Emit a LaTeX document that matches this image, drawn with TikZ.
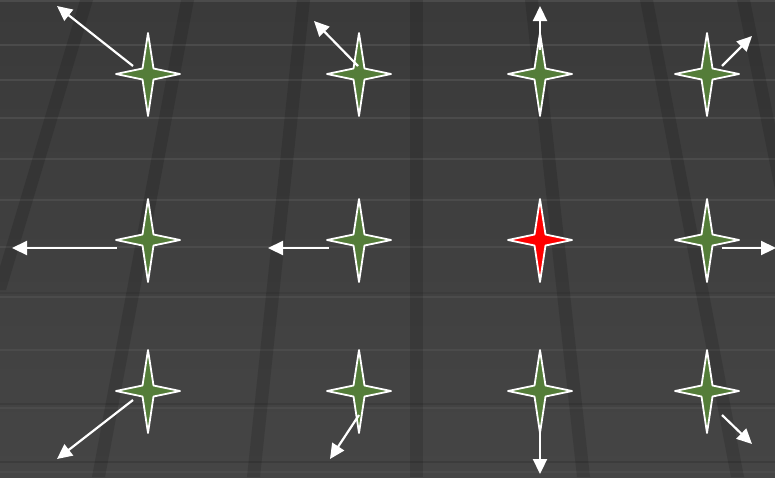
\documentclass[tikz,border=0pt]{standalone}
\usetikzlibrary{arrows.meta,calc}
\definecolor{bgtop}{RGB}{58,58,58}
\definecolor{bgbot}{RGB}{69,69,69}
\definecolor{hline}{RGB}{75,75,75}
\definecolor{hdark}{RGB}{60,60,60}
\definecolor{starGreen}{RGB}{84,125,57}
\definecolor{starRed}{RGB}{255,0,0}
\tikzset{
  stripe/.style={fill=black,fill opacity=0.13,draw=none},
  gridline/.style={draw=hline,line width=2pt},
  groove/.style={draw=hdark,line width=2pt},
  flow/.style={draw=white,line width=2.2pt,-{Triangle[length=15pt,width=14pt]}},
  starshape/.style={draw=white,line width=1.8pt,line join=round,fill=starGreen},
  redstar/.style={starshape,fill=starRed}
}
\newcommand{\starpath}[2]{%
  \path[#2] ($(#1)+(0,-41)$) -- ($(#1)+(5.5,-5.5)$) -- ($(#1)+(32,0)$) -- ($(#1)+(5.5,5.5)$) -- ($(#1)+(0,42)$) -- ($(#1)+(-5.5,5.5)$) -- ($(#1)+(-32,0)$) -- ($(#1)+(-5.5,-5.5)$) -- cycle;}
\begin{document}
\begin{tikzpicture}[x=1pt,y=-1pt]
\useasboundingbox (0,0) rectangle (775,477);
% background
\shade[top color=bgtop,bottom color=bgbot] (0,0) rectangle (775,477);
% horizontal lines
\foreach \yy in {1,45,80,118,159,200,247,297,350,408,472} {
  \draw[gridline] (0,\yy) -- (775,\yy);
}
\foreach \yy in {293,404,462} {
  \draw[groove] (0,\yy) -- (775,\yy);
}
% slanted dark stripes
\fill[stripe] (80,0) -- (93,0) -- (6,290) -- (-7,290) -- cycle;
\fill[stripe] (181,0) -- (194,0) -- (105,477) -- (92,477) -- cycle;
\fill[stripe] (297,0) -- (310,0) -- (260,477) -- (247,477) -- cycle;
\fill[stripe] (410,0) -- (423,0) -- (423,477) -- (410,477) -- cycle;
\fill[stripe] (525,0) -- (538,0) -- (590,477) -- (577,477) -- cycle;
\fill[stripe] (640,0) -- (653,0) -- (744,477) -- (731,477) -- cycle;
\fill[stripe] (737,0) -- (750,0) -- (810,300) -- (797,300) -- cycle;
% star centres
\coordinate (s11) at (148,74);
\coordinate (s12) at (359,74);
\coordinate (s13) at (540,74);
\coordinate (s14) at (707,74);
\coordinate (s21) at (148,240);
\coordinate (s22) at (359,240);
\coordinate (s23) at (540,240);
\coordinate (s24) at (707,240);
\coordinate (s31) at (148,391);
\coordinate (s32) at (359,391);
\coordinate (s33) at (540,391);
\coordinate (s34) at (707,391);
% stars
\starpath{s11}{starshape}
\starpath{s12}{starshape}
\starpath{s13}{starshape}
\starpath{s14}{starshape}
\starpath{s21}{starshape}
\starpath{s22}{starshape}
\starpath{s23}{redstar}
\starpath{s24}{starshape}
\starpath{s31}{starshape}
\starpath{s32}{starshape}
\starpath{s33}{starshape}
\starpath{s34}{starshape}
% arrow endpoints
\coordinate (a11) at (133,66);  \coordinate (b11) at (57,6);
\coordinate (a12) at (358,66);  \coordinate (b12) at (314,21);
\coordinate (a13) at (540,50);  \coordinate (b13) at (540,6);
\coordinate (a14) at (722,66);  \coordinate (b14) at (752,36);
\coordinate (a21) at (117,248); \coordinate (b21) at (12,248);
\coordinate (a22) at (329,248); \coordinate (b22) at (268,248);
\coordinate (a24) at (722,248); \coordinate (b24) at (776,248);
\coordinate (a31) at (133,400); \coordinate (b31) at (57,459);
\coordinate (a32) at (359,415); \coordinate (b32) at (330,459);
\coordinate (a33) at (540,428); \coordinate (b33) at (540,474);
\coordinate (a34) at (722,415); \coordinate (b34) at (752,444);
% arrows
\foreach \k in {11,12,13,14,21,22,24,31,32,33,34} {
  \draw[flow] (a\k) -- (b\k);
}
\end{tikzpicture}
\end{document}
